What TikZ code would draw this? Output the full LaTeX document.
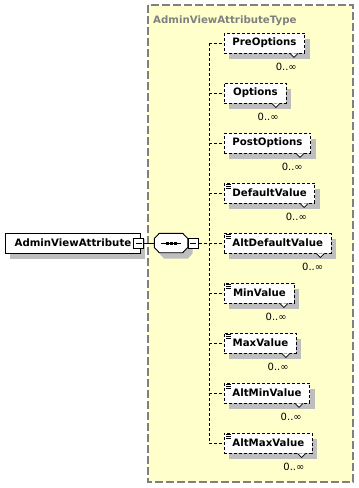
\documentclass[tikz,border=0pt]{standalone}
\usepackage{fontspec}
\setmainfont{DejaVu Sans}
\definecolor{schemafill}{RGB}{255, 255, 204}
\definecolor{schemaline}{RGB}{128, 128, 128}
\definecolor{shade}{RGB}{190, 190, 190}

\tikzset{
  boxshadow/.style={preaction={fill=shade, transform canvas={shift={(5pt, -6pt)}}}},
  elem/.style={draw, fill=white, line width=0.9pt, minimum height=20pt, inner xsep=8pt, anchor=west,
    font=\fontsize{10.2}{12}\selectfont\bfseries, boxshadow},
  optelem/.style={elem, dash pattern=on 3pt off 2pt},
  mult/.style={font=\fontsize{10}{12}\selectfont, inner sep=0pt, anchor=base east},
  conn/.style={line width=0.9pt, dash pattern=on 3pt off 2pt},
  toggle/.style={draw, fill=white, line width=0.9pt, minimum size=10pt, inner sep=0pt,
    path picture={\draw[line width=0.9pt] ([xshift=2pt]path picture bounding box.west) -- ([xshift=-2pt]path picture bounding box.east);}},
  seqbox/.style={minimum width=33pt, minimum height=19pt, inner sep=0pt}
}

\begin{document}
\begin{tikzpicture}[x=1pt, y=-1pt]

  \useasboundingbox (0, 0) rectangle (359, 488);

  % the complex type
  \draw[fill=schemafill, draw=schemaline, line width=1.2pt, dash pattern=on 8pt off 3pt] (148, 5) rectangle (353, 482);
  \node[anchor=base west, inner sep=0pt, text=schemaline, font=\fontsize{10.2}{12}\selectfont\bfseries] (typename) at (153, 23) {AdminViewAttributeType};

  % root element and sequence
  \node[elem, minimum width=135pt] (root) at (5, 243) {AdminViewAttribute};
  \node[toggle] (rootx) at ([xshift=-2pt]root.east) {};

  \node[seqbox] (seq) at (171, 243) {};
  \draw[fill=white, line width=0.9pt, boxshadow] ([yshift=4.5pt]seq.west) -- ([xshift=5pt]seq.north west)
    -- ([xshift=-5pt]seq.north east) -- ([yshift=4.5pt]seq.east) -- ([yshift=-4.5pt]seq.east)
    -- ([xshift=-5pt]seq.south east) -- ([xshift=5pt]seq.south west) -- ([yshift=-4.5pt]seq.west) -- cycle;
  \draw[line width=0.9pt] ([xshift=7pt]seq.west) -- ([xshift=-7pt]seq.east);
  \foreach \d in {-4, 0, 4}
    \fill ([xshift=\d pt]seq.center) +(-1.5, -1.5) rectangle +(1.5, 1.5);
  \node[toggle, anchor=west] (seqx) at (seq.east) {};

  \coordinate (spine) at (209, 243);
  \draw[line width=0.9pt] (rootx) -- (seq);
  \draw[conn] (seqx) -- (spine);

  % children of the sequence
  \foreach \nm/\y/\w/\ic in {PreOptions/43/80/0, Options/93/62/0, PostOptions/143/86/0,
      DefaultValue/193/85/1, AltDefaultValue/243/100/1, MinValue/293/70/1,
      MaxValue/343/72/1, AltMinValue/393/83/1, AltMaxValue/443/87/1} {
    \node[optelem, minimum width=\w pt] (\nm) at (224, \y) {\nm};
    \draw[fill=white, line width=0.7pt] ([xshift=-15pt]\nm.south east) -- ++(4, 4) -- ++(4, -4);
    \node[mult] (\nm-mult) at ([xshift=-8pt, yshift=-17pt]\nm.south east) {0..∞};
    \ifnum\ic=1
      \foreach \k in {2, 4, 6}
        \draw[line width=0.7pt] (\nm.north west) ++(2, \k) -- ++(5, 0);
    \fi
    \draw[conn] (\nm.west -| spine) -- (\nm.west);
  }
  \draw[conn] (PreOptions.west -| spine) -- (AltMaxValue.west -| spine);

\end{tikzpicture}
\end{document}
